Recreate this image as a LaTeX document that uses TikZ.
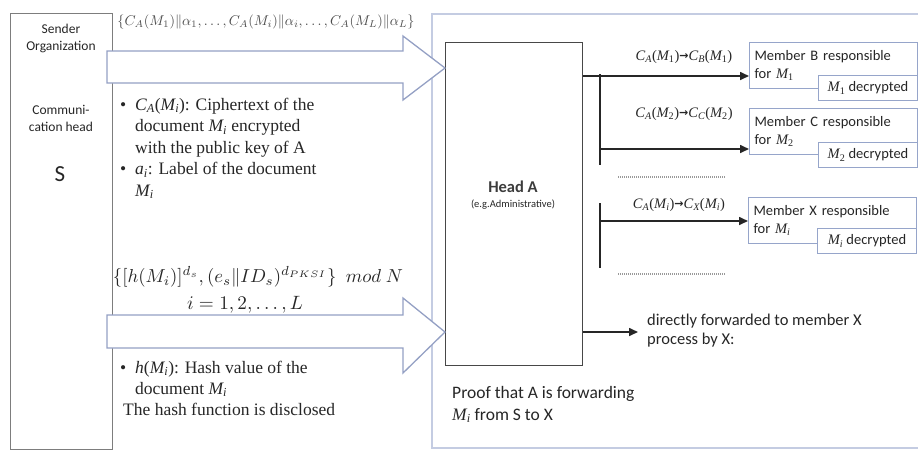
\documentclass[tikz,border=0pt]{standalone}
\usepackage{graphicx}
\usepackage{fontspec}
\setmainfont{Liberation Serif}
\newfontfamily\carl{Carlito}
\newfontfamily\dejavu{DejaVu Sans}
\usetikzlibrary{arrows.meta}

\definecolor{leftframe}{RGB}{125,125,125}
\definecolor{rightframe}{RGB}{196,204,226}
\definecolor{blockline}{RGB}{148,160,196}
\definecolor{memberline}{RGB}{150,165,202}
\definecolor{ink}{RGB}{38,38,38}

% italic variables set in the serif face
\newcommand\Mi[1]{{\rmfamily\itshape M\textsubscript{#1}}}
\newcommand\Mn[1]{{\rmfamily\itshape M\textsubscript{\upshape #1}}}
\newcommand\Cx[1]{{\rmfamily\itshape C\textsubscript{#1}}}
\newcommand\bul{\llap{\textbullet\hspace{9pt}}}
\newcommand\toarrow{{\dejavu\bfseries\fontsize{11}{12}\selectfont\raisebox{0.5pt}{→}}}

\begin{document}
\begin{tikzpicture}[x=1pt,y=-1pt,
  serif/.style={font=\fontsize{17.5}{21.5}\selectfont, text=ink, inner sep=0pt, align=left},
  sans/.style={font=\carl\fontsize{16.5}{19}\selectfont, text=ink, inner sep=0pt, align=left},
  side/.style={font=\carl\fontsize{13.5}{17}\selectfont, text=ink, inner sep=0pt, align=center},
  blockarrow/.style={draw=blockline, line width=1.3pt, fill=white, line join=miter},
  member/.style={draw=memberline, line width=1pt, fill=white, anchor=north west,
    inner xsep=5pt, inner ysep=0pt, text width=158pt, minimum height=46pt,
    font=\carl\fontsize{14.5}{18}\selectfont, text=ink, align=left},
  decrypted/.style={draw=memberline, line width=1pt, fill=white, anchor=north west,
    inner sep=0pt, minimum width=99pt, minimum height=25pt,
    font=\carl\fontsize{14.5}{18}\selectfont, text=ink},
  fwd/.style={draw=ink, line width=1.6pt, -{Triangle[length=9pt,width=8pt]}},
  bar/.style={draw=ink, line width=2.4pt},
  dotsline/.style={draw=black!40, line width=1.2pt, dash pattern=on 1pt off 1pt},
  maplabel/.style={font=\fontsize{14.5}{16}\selectfont, text=ink, inner sep=0pt},
  formula/.style={text=ink, inner sep=0pt}
]
\useasboundingbox (0,0) rectangle (918,451);

% frames
\node[draw=leftframe, line width=1.3pt, anchor=north west, inner sep=0pt,
      minimum width=102pt, minimum height=436pt] (sendbox) at (10,13) {};
\node[draw=rightframe, line width=1.5pt, anchor=north west, inner sep=0pt,
      minimum width=500pt, minimum height=434pt] (recvbox) at (431,13) {};

% head A
\node[draw=ink!85, line width=1.3pt, anchor=north west, inner sep=0pt,
      minimum width=137pt, minimum height=323pt] (headA) at (445,42) {};
\node[font=\carl\bfseries\fontsize{16.5}{18}\selectfont, text=ink!90] (headlbl) at (513,187) {Head A};
\node[font=\carl\fontsize{10.5}{12}\selectfont, text=ink] (headsub) at (513,205) {(e.g.Administrative)};

% block arrows from S to A
\draw[blockarrow] (107,51) -- (403,51) -- (403,36) -- (445,68) -- (403,100)
  -- (403,83) -- (107,83) -- cycle;
\draw[blockarrow] (107,315) -- (403,315) -- (403,298) -- (445,332) -- (403,373)
  -- (403,348) -- (107,348) -- cycle;

% sender column
\node[side] (sender) at (61,38) {Sender\\Organization};
\node[side] (commhead) at (61,118) {Communi-\\cation head};
\node[font=\carl\fontsize{23}{24}\selectfont, text=ink, inner sep=0pt] (sname) at (60,174) {S};

% message formulas and notes (base anchor = baseline of the last line)
\node[formula, text=black!70] (msgset) at (266,22)
  {\resizebox{297pt}{!}{$\{C_A(M_1)\|\alpha_1,\ldots,C_A(M_i)\|\alpha_i,\ldots,C_A(M_L)\|\alpha_L\}$}};
\node[serif, anchor=base west] (note1) at (135,196)
  {\bul\Cx{A}(\Mi{i}): Ciphertext of the\\
   document \Mi{i} encrypted\\
   with the public key of A\\
   \bul{\itshape a\textsubscript{i}}: Label of the document\\
   \Mi{i}};
\node[formula] (sigform) at (258,277)
  {\resizebox{290pt}{!}{$\{[h(M_i)]^{d_s},(e_s\|ID_s)^{d_{PKSI}}\}\ \ mod\ N$}};
\node[formula] (range) at (245,305)
  {\resizebox{116pt}{!}{$i=1,2,\ldots,L$}};
\node[serif, anchor=base west, font=\fontsize{17.5}{21}\selectfont] (note2) at (135,415)
  {\bul{\itshape h}(\Mi{i}): Hash value of the\\
   document \Mi{i}\\
   \hspace*{-12pt}The hash function is disclosed};

% members
\node[member] (mB) at (749,42) {Member B responsible\\for \Mn{1}};
\node[decrypted] (dB) at (818,75) {\Mn{1} decrypted};
\node[member] (mC) at (749,108) {Member C responsible\\for \Mn{2}};
\node[decrypted] (dC) at (818,142) {\Mn{2} decrypted};
\node[member] (mX) at (748,197) {Member X responsible\\for \Mi{i}};
\node[decrypted] (dX) at (817,228) {\Mi{i} decrypted};

% forwarding paths
\coordinate (barTop) at (600,74);
\coordinate (barBot) at (600,165);
\coordinate (barXTop) at (600,203);
\coordinate (barXBot) at (600,268);
\coordinate (inB) at ([yshift=13pt]mB.south west);
\coordinate (inC) at ([yshift=6pt]mC.south west);
\coordinate (inX) at ([yshift=23pt]mX.south west);
\coordinate (direct) at (638,332);

\draw[bar] (barTop) -- (barBot);
\draw[bar] (barXTop) -- (barXBot);
\draw[fwd] (headA.east |- inB) -- (inB);
\draw[fwd] (barTop |- inC) -- (inC);
\draw[fwd] (barXTop |- inX) -- (inX);
\draw[fwd] (headA.east |- direct) -- (direct);

\node[maplabel] (labB) at (684,57) {\Cx{A}(\Mn{1})\toarrow\Cx{B}(\Mn{1})};
\node[maplabel] (labC) at (684,114) {\Cx{A}(\Mn{2})\toarrow\Cx{C}(\Mn{2})};
\node[maplabel] (labX) at (679,205) {\Cx{A}(\Mi{i})\toarrow\Cx{X}(\Mi{i})};

\draw[dotsline] (618,177) -- (725,177);
\draw[dotsline] (618,274) -- (725,274);

\node[sans, anchor=base west] (direcText) at (647,344)
  {directly forwarded to member X\\process by X:};
\node[sans, anchor=base west, font=\carl\fontsize{17.5}{21.5}\selectfont] (proof) at (452,420)
  {Proof that A is forwarding\\\Mi{i} from S to X};
\end{tikzpicture}
\end{document}
